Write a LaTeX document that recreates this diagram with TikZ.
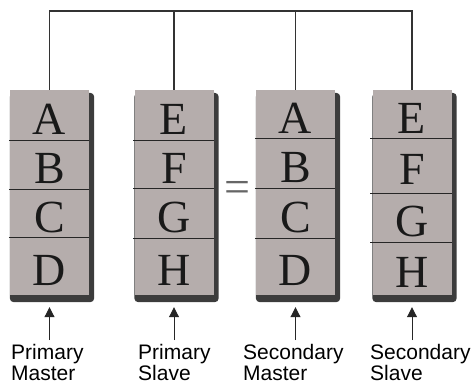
\documentclass[tikz,border=0pt]{standalone}
\usepackage{fontspec}
\setmainfont{Liberation Serif}
\newfontfamily\capfont{Liberation Sans}
\usepackage{tikz}
\usepackage{xcolor}
\usetikzlibrary{arrows.meta,calc,backgrounds}

\definecolor{regfill}{HTML}{B5ADAC}
\definecolor{regshadow}{HTML}{3C3C3C}

\tikzset{
    cell/.style={fill=regfill, inner sep=0pt, minimum width=79pt, text height=38pt, text depth=0pt, text=black!90, font=\fontsize{46}{46}\selectfont},
    divider/.style={black!85, line width=1.2pt},
    bus/.style={black!80, line width=1.1pt},
    pointer/.style={black!85, line width=1pt, -{Triangle[length=10pt,width=10pt]}},
    eqsign/.style={inner sep=0pt, text=black!60, font=\fontsize{46}{46}\selectfont},
    caption/.style={anchor=north west, inner sep=0pt, align=left, font=\capfont\fontsize{21}{21.5}\selectfont},
}

\begin{document}
\begin{tikzpicture}[x=1pt,y=-1pt]
    \useasboundingbox (0,0) rectangle (473,386);

    \foreach \l/\t/\b in {A/90/140, B/140/189, C/189/237, D/237/295}
        \node[cell, minimum height=\b-\t] (pm\l) at (49.5,{(\t+\b)/2}) {\l};
    \foreach \l/\t/\b in {E/90/140, F/140/188, G/188/238, H/238/295}
        \node[cell, minimum height=\b-\t] (ps\l) at (174,{(\t+\b)/2}) {\l};
    \foreach \l/\t/\b in {A/90/138, B/138/188, C/188/238, D/238/295}
        \node[cell, minimum height=\b-\t] (sm\l) at (295.5,{(\t+\b)/2}) {\l};
    \foreach \l/\t/\b in {E/90/138, F/138/193, G/193/242, H/242/295}
        \node[cell, minimum height=\b-\t] (ss\l) at (412,{(\t+\b)/2}) {\l};

    \foreach \l in {A,B,C} \draw[divider] ([xshift=-1pt]pm\l.south west) -- (pm\l.south east);
    \foreach \l in {E,F,G} \draw[divider] ([xshift=-1pt]ps\l.south west) -- (ps\l.south east);
    \foreach \l in {A,B,C} \draw[divider] ([xshift=-1pt]sm\l.south west) -- (sm\l.south east);
    \foreach \l in {E,F,G} \draw[divider] ([xshift=-2pt]ss\l.south west) -- (ss\l.south east);

    \begin{scope}[on background layer]
        \foreach \hi/\lo in {pmA/pmD, psE/psH, smA/smD, ssE/ssH}
            \fill[regshadow, rounded corners=4pt] ($(\hi.north west)+(0,3)$) rectangle ($(\lo.south east)+(5,7)$);
    \end{scope}

    \node[eqsign] (eq) at (237,192) {=};

    \coordinate (busline) at (0,11);
    \draw[bus] (pmA.north) |- (ssE.north |- busline) -- (ssE.north);
    \draw[bus] (psE.north) -- (psE.north |- busline);
    \draw[bus] (smA.north) -- (smA.north |- busline);

    \node[caption] (pmcap) at (11,344) {Primary\\Master};
    \node[caption] (pscap) at (138,344) {Primary\\Slave};
    \node[caption] (smcap) at (243,344) {Secondary\\Master};
    \node[caption] (sscap) at (370,344) {Secondary\\Slave};

    \draw[pointer] ($(pmD.south)+(0,45)$) -- ($(pmD.south)+(0,12)$);
    \draw[pointer] ($(psH.south)+(0,45)$) -- ($(psH.south)+(0,12)$);
    \draw[pointer] ($(smD.south)+(0,45)$) -- ($(smD.south)+(0,12)$);
    \draw[pointer] ($(ssH.south)+(0,45)$) -- ($(ssH.south)+(0,12)$);
\end{tikzpicture}
\end{document}
